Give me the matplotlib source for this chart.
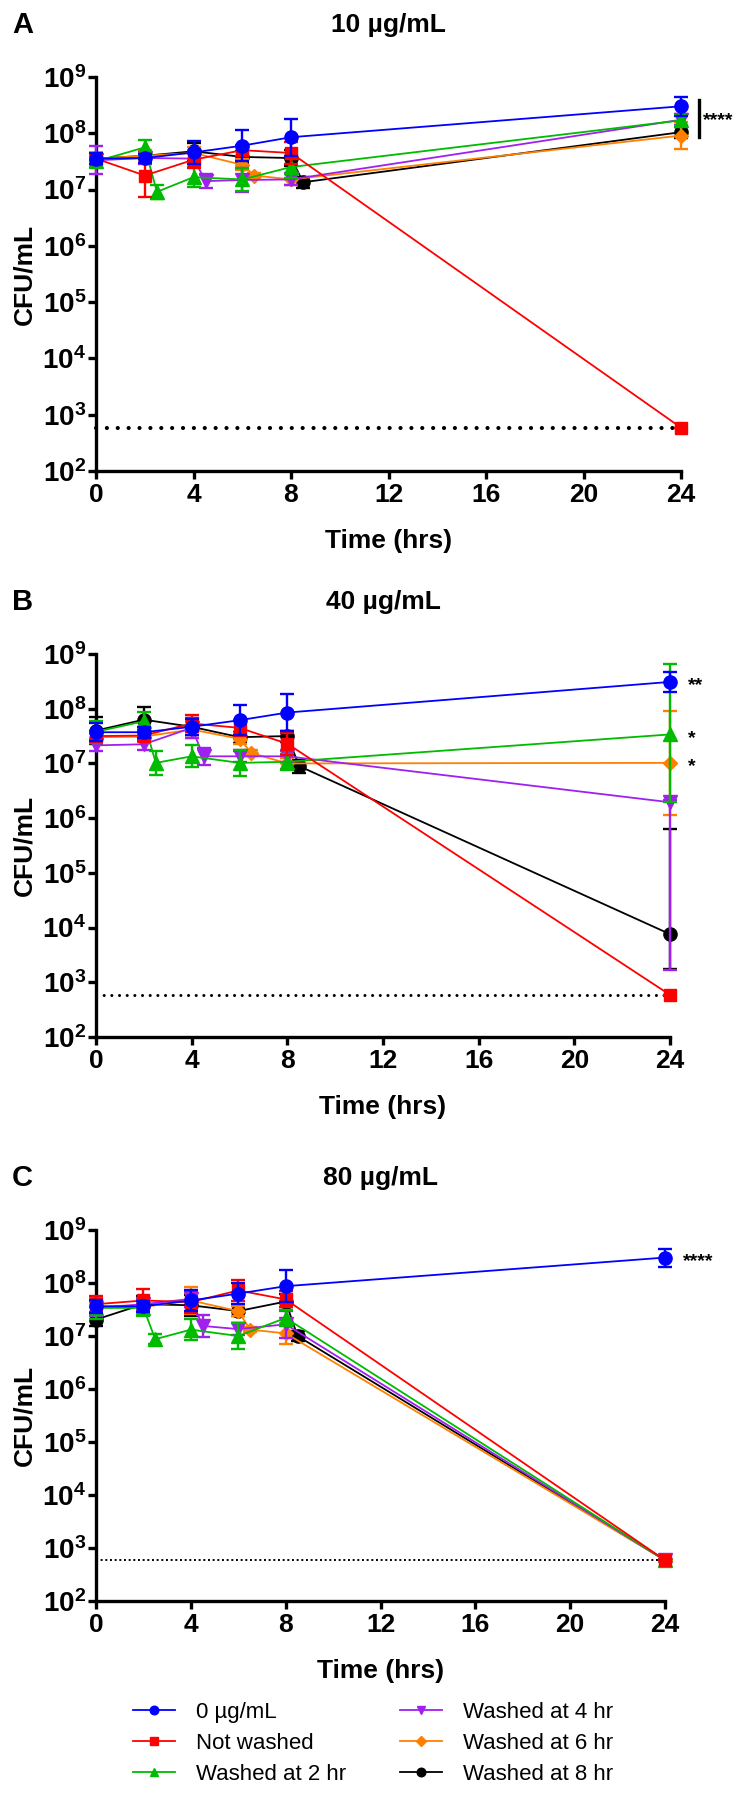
import numpy as np
import matplotlib.pyplot as plt
from matplotlib.lines import Line2D
from matplotlib.transforms import ScaledTranslation

plt.rcParams['font.family'] = ['Liberation Sans', 'DejaVu Sans']
plt.rcParams['mathtext.fontset'] = 'custom'
plt.rcParams['mathtext.rm'] = 'Liberation Sans'
plt.rcParams['mathtext.bf'] = 'Liberation Sans:bold'

# detection limit, log10 CFU/mL
LOD = 2.77

labels = ['0 µg/mL', 'Not washed', 'Washed at 2 hr',
          'Washed at 4 hr', 'Washed at 6 hr', 'Washed at 8 hr']
colors = ['#0000FF', '#FF0000', '#00BB00', '#A020F0', '#FF8000', '#000000']
markers = ['o', 's', '^', 'v', 'D', 'o']
msizes = [9.5, 8.5, 9.5, 9.5, 7.5, 9.5]

# sampling times (hrs) for each series
times = [
    [0, 2, 4, 6, 8, 24],
    [0, 2, 4, 6, 8, 24],
    [0, 2, 2.5, 4, 6, 8, 24],
    [0, 2, 4, 4.5, 6, 8, 24],
    [0, 2, 4, 6, 6.5, 8, 24],
    [0, 2, 4, 6, 8, 8.5, 24],
]

# log10 CFU/mL, errors in decades (number = symmetric, tuple = (down, up))
A_mean = [
    [7.55, 7.56, 7.66, 7.78, 7.93, 8.48],
    [7.55, 7.25, 7.53, 7.70, 7.65, LOD],
    [7.50, 7.75, 6.96, 7.22, 7.18, 7.40, 8.23],
    [7.52, 7.56, 7.55, 7.15, 7.17, 7.18, 8.24],
    [7.55, 7.60, 7.65, 7.44, 7.25, 7.18, 7.96],
    [7.55, 7.60, 7.68, 7.58, 7.56, 7.13, 8.02],
]
A_err = [
    [0.10, 0.08, 0.20, 0.27, 0.33, 0.17],
    [0.10, 0.38, 0.15, 0.10, 0.20, 0],
    [0.10, 0.13, 0.12, 0.18, 0.20, 0.20, 0.10],
    [0.25, 0.10, 0.10, 0.12, 0.22, 0.10, 0.10],
    [0.10, 0.10, 0.10, 0.10, 0.05, 0.10, 0.24],
    [0.10, 0.08, 0.15, 0.10, 0.15, 0.10, 0.10],
]

B_mean = [
    [7.57, 7.57, 7.67, 7.79, 7.93, 8.49],
    [7.50, 7.51, 7.73, 7.65, 7.36, LOD],
    [7.58, 7.77, 7.01, 7.13, 7.01, 7.03, 7.53],
    [7.33, 7.35, 7.65, 7.13, 7.13, 7.13, 6.29],
    [7.48, 7.49, 7.62, 7.45, 7.19, 7.00, 7.01],
    [7.60, 7.80, 7.67, 7.48, 7.50, 6.95, 3.88],
]
B_err = [
    [0.16, 0.10, 0.15, 0.27, 0.33, 0.18],
    [0.10, 0.10, 0.15, 0.15, 0.20, 0],
    [0.20, 0.17, 0.22, 0.20, 0.24, 0.15, (1.23, 1.29)],
    [0.10, 0.10, 0.18, 0.15, 0.10, 0.10, (3.07, 0.05)],
    [0.10, 0.10, 0.15, 0.10, 0.05, 0.10, 0.95],
    [0.25, 0.23, 0.15, 0.10, 0.10, 0.12, (0.64, 1.93)],
]

C_mean = [
    [7.56, 7.56, 7.67, 7.80, 7.94, 8.48],
    [7.60, 7.67, 7.64, 7.86, 7.69, LOD],
    [7.53, 7.53, 6.94, 7.12, 7.00, 7.34, LOD],
    [7.53, 7.60, 7.70, 7.19, 7.13, 7.22, LOD],
    [7.56, 7.55, 7.67, 7.47, 7.12, 7.05, LOD],
    [7.31, 7.60, 7.58, 7.47, 7.65, 7.00, LOD],
]
C_err = [
    [0.12, 0.10, 0.20, 0.20, 0.30, 0.17],
    [0.15, 0.22, 0.20, 0.20, 0.15, 0],
    [0.20, 0.15, 0.10, 0.20, 0.25, 0.15, 0],
    [0.15, 0.10, 0.15, 0.20, 0.12, 0.25, 0],
    [0.15, 0.15, 0.25, 0.10, 0.05, 0.20, 0],
    [0.12, 0.15, 0.20, 0.10, 0.15, 0.10, 0],
]

titles = ['10 µg/mL', '40 µg/mL', '80 µg/mL']
letters = ['A', 'B', 'C']
xticks = [0, 4, 8, 12, 16, 20, 24]
ydecades = [2, 3, 4, 5, 6, 7, 8, 9]

W, H = 740, 1800
fig = plt.figure(figsize=(W / 100, H / 100), dpi=100)


def px_axes(left, right, top, bottom):
    return fig.add_axes([left / W, 1 - bottom / H, (right - left) / W, (bottom - top) / H])


def draw_panel(ax, means, errs, lod_style):
    ax.plot([0, 24], [10 ** LOD] * 2, color='k', clip_on=False, zorder=1, **lod_style)
    for i in [5, 4, 3, 2, 1, 0]:
        t = np.array(times[i], dtype=float)
        y = np.array(means[i])
        lo = np.array([e[0] if isinstance(e, tuple) else e for e in errs[i]])
        hi = np.array([e[1] if isinstance(e, tuple) else e for e in errs[i]])
        yv = 10 ** y
        yerr = [yv - 10 ** (y - lo), 10 ** (y + hi) - yv]
        cont = ax.errorbar(t, yv, yerr=yerr, color=colors[i], marker=markers[i],
                           ms=msizes[i], mec=colors[i], lw=1.3, elinewidth=1.7,
                           capsize=5, capthick=1.7, zorder=3 + (5 - i))
        for art in cont.get_children():
            art.set_clip_on(False)
    ax.set_yscale('log')
    ax.set_xlim(0, 24)
    ax.set_ylim(10 ** 2, 10 ** 9)
    ax.set_xticks(xticks)
    ax.set_xticklabels([str(v) for v in xticks], fontsize=19, fontweight='bold')
    ax.set_yticks([10.0 ** d for d in ydecades])
    ax.set_yticklabels([r'$\mathbf{10^{%d}}$' % d for d in ydecades], fontsize=20)
    ax.yaxis.set_minor_locator(plt.NullLocator())
    ax.tick_params(axis='both', which='major', direction='out', length=6, width=2.4)
    ax.tick_params(axis='y', pad=1)
    ax.tick_params(axis='x', pad=3)
    for s in ['top', 'right']:
        ax.spines[s].set_visible(False)
    for s in ['left', 'bottom']:
        ax.spines[s].set_linewidth(2.4)
    ax.patch.set_alpha(0)


panels = [
    (96, 681, 77, 471, A_mean, A_err, dict(lw=3.0, linestyle=(0, (0.01, 2.6)), dash_capstyle='round')),
    (96, 670, 654, 1037, B_mean, B_err, dict(lw=2.2, linestyle=(0, (0.01, 2.5)), dash_capstyle='round')),
    (96, 665, 1230, 1601, C_mean, C_err, dict(lw=1.4, linestyle=(0, (1, 1.4)))),
]

axes = []
for k, (l, r, tp, bt, means, errs, lod_style) in enumerate(panels):
    ax = px_axes(l, r, tp, bt)
    draw_panel(ax, means, errs, lod_style)
    axes.append(ax)
    xc = (l + r) / 2 / W
    fig.text(xc, 1 - (tp - 52) / H, titles[k], ha='center', va='center',
             fontsize=19, fontweight='bold')
    fig.text(12 / W, 1 - (tp - 52) / H, letters[k], ha='left', va='center',
             fontsize=21, fontweight='bold')
    fig.text(24 / W, 1 - (tp + bt) / 2 / H, 'CFU/mL', rotation=90, ha='center',
             va='center', fontsize=19, fontweight='bold')
    fig.text(xc, 1 - (bt + 70) / H, 'Time (hrs)', ha='center', va='center',
             fontsize=19, fontweight='bold')

# significance marks at 24 hr
star_kw = dict(textcoords='offset points', ha='left', va='center', fontsize=14,
               fontweight='bold', annotation_clip=False)
axA, axB, axC = axes
shift = ScaledTranslation(13 / 72, 0, fig.dpi_scale_trans)
axA.plot([24, 24], [10 ** 7.94, 10 ** 8.6], color='k', lw=2.4, clip_on=False,
         transform=axA.transData + shift)
axA.annotate('****', xy=(24, 10 ** 8.30), xytext=(16, -3), **star_kw)
axB.annotate('**', xy=(24, 10 ** B_mean[0][-1]), xytext=(13, -3), **star_kw)
axB.annotate('*', xy=(24, 10 ** B_mean[2][-1]), xytext=(13, -3), **star_kw)
axB.annotate('*', xy=(24, 10 ** B_mean[4][-1]), xytext=(13, -3), **star_kw)
axC.annotate('****', xy=(24, 10 ** C_mean[0][-1]), xytext=(13, -3), **star_kw)

handles = [Line2D([], [], color=colors[i], marker=markers[i], ms=msizes[i] * 0.65,
                  lw=1.3) for i in range(6)]
fig.legend(handles, labels, loc='upper left', bbox_to_anchor=(133 / W, 1 - 1702 / H),
           ncol=2, frameon=False, fontsize=16, handlelength=1.9, handletextpad=0.95,
           columnspacing=2.4, labelspacing=0.45, borderpad=0, borderaxespad=0)

fig.savefig('out.png', dpi=100)
